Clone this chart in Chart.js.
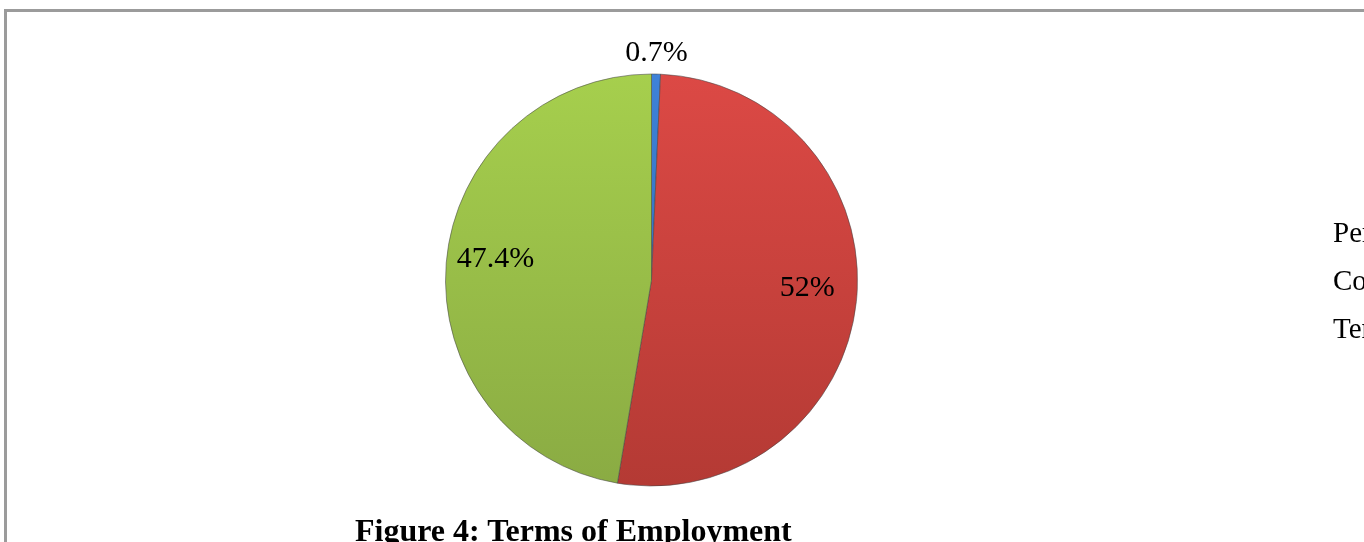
<!DOCTYPE html>
<html>
<head>
<meta charset="utf-8">
<script src="https://cdn.jsdelivr.net/npm/chart.js@4.4.0/dist/chart.umd.min.js"></script>
<style>
  html, body {
    margin: 0;
    padding: 0;
    width: 1364px;
    height: 542px;
    overflow: hidden;
    background: #ffffff;
  }
  #frame {
    position: absolute;
    left: 4px;
    top: 9px;
    width: 1500px;
    height: 700px;
    border-top: 3px solid #9b9b9b;
    border-left: 3px solid #9b9b9b;
  }
  #wrap {
    position: absolute;
    left: 0;
    top: 0;
    width: 1364px;
    height: 542px;
  }
  #legend {
    position: absolute;
    left: 1333px;
    top: 214px;
    font-family: "Liberation Serif", "Times New Roman", serif;
    font-size: 29px;
    color: #000;
    white-space: nowrap;
  }
  #legend div {
    height: 48px;
    line-height: 36px;
  }
  #title {
    position: absolute;
    left: 355px;
    top: 512px;
    font-family: "Liberation Serif", "Times New Roman", serif;
    font-weight: bold;
    font-size: 32px;
    color: #000;
    white-space: nowrap;
  }
</style>
</head>
<body>
<div id="frame"></div>
<div id="wrap"><canvas id="pie-chart" width="1364" height="542"></canvas></div>
<div id="legend"></div>
<div id="title">Figure 4: Terms of Employment</div>

<script>
const categories = ["Permanent", "Contract", "Temporary"];
const shares = [0.7, 52, 47.4];
const shareLabels = ["0.7%", "52%", "47.4%"];

const topColors = ["#3f82d8", "#dc4945", "#a6cf4d"];
const bottomColors = ["#2a64b0", "#b43a34", "#8aab43"];

function sliceFill(context) {
  const chart = context.chart;
  const area = chart.chartArea;
  if (!area) {
    return topColors[context.dataIndex];
  }
  const grad = chart.ctx.createLinearGradient(0, area.top, 0, area.bottom);
  grad.addColorStop(0, topColors[context.dataIndex]);
  grad.addColorStop(1, bottomColors[context.dataIndex]);
  return grad;
}

// draws the percent labels next to each slice
const sliceLabels = {
  id: "sliceLabels",
  afterDatasetsDraw: function(chart) {
    const ctx = chart.ctx;
    const arcs = chart.getDatasetMeta(0).data;
    ctx.save();
    ctx.font = "30px 'Liberation Serif', 'Times New Roman', serif";
    ctx.fillStyle = "#000";
    ctx.textAlign = "center";
    ctx.textBaseline = "middle";
    arcs.forEach(function(arc, i) {
      const p = arc.getProps(["x", "y", "startAngle", "endAngle", "outerRadius"], true);
      const mid = (p.startAngle + p.endAngle) / 2;
      let r;
      let dy = 0;
      if (shares[i] < 5) {
        r = p.outerRadius + 21;
      } else {
        r = p.outerRadius * 0.76;
        dy = -8;
      }
      ctx.fillText(
        shareLabels[i],
        p.x + Math.cos(mid) * r,
        p.y + Math.sin(mid) * r + dy
      );
    });
    ctx.restore();
  }
};

const legendBox = document.getElementById("legend");
categories.forEach(function(name) {
  const row = document.createElement("div");
  row.textContent = name;
  legendBox.appendChild(row);
});

new Chart(document.getElementById("pie-chart"), {
  type: "pie",
  data: {
    labels: categories,
    datasets: [
      {
        data: shares,
        backgroundColor: sliceFill,
        borderColor: "rgba(70, 70, 70, 0.55)",
        borderWidth: 1
      }
    ]
  },
  options: {
    responsive: false,
    animation: false,
    layout: {
      padding: {
        top: 73,
        bottom: 55,
        left: 445,
        right: 506
      }
    },
    plugins: {
      legend: {
        display: false
      },
      tooltip: {
        enabled: false
      }
    }
  },
  plugins: [sliceLabels]
});
</script>
</body>
</html>
